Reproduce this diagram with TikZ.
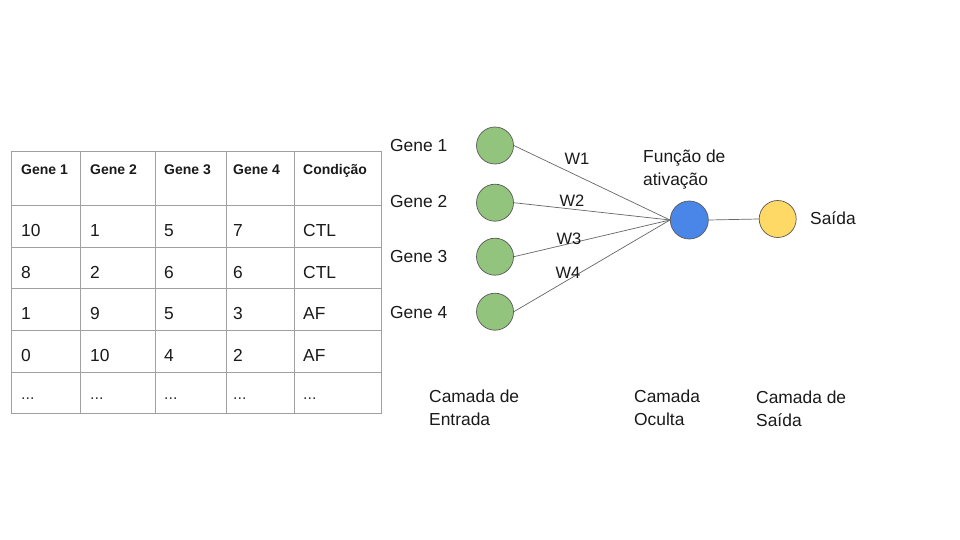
\documentclass[tikz,border=0pt]{standalone}
\usepackage{fontspec}
\setmainfont{Liberation Sans}
\definecolor{ngreen}{HTML}{93C47D}
\definecolor{nblue}{HTML}{4A86E8}
\definecolor{nyellow}{HTML}{FFD966}
\definecolor{edgegray}{HTML}{595959}
\definecolor{linegray}{HTML}{666666}
\definecolor{tabgray}{HTML}{A0A0A0}
\definecolor{txt}{HTML}{1A1A1A}
\definecolor{dotgray}{HTML}{333333}
\begin{document}
\begin{tikzpicture}[x=1pt,y=-1pt,
  neuron/.style={circle, draw=edgegray, line width=0.7pt, minimum size=37pt, inner sep=0pt},
  lbl/.style={anchor=west, inner sep=0pt, font=\fontsize{17.4}{23}\selectfont, align=left, text=txt},
  wlbl/.style={inner sep=0pt, font=\fontsize{16.5}{20}\selectfont, text=txt},
  conn/.style={draw=linegray, line width=0.7pt},
  tline/.style={draw=tabgray, line width=0.8pt},
  thead/.style={anchor=base west, inner sep=0pt, font=\fontsize{14}{16}\selectfont\bfseries, text=txt},
  tcell/.style={anchor=base west, inner sep=0pt, font=\fontsize{17.4}{20}\selectfont, text=txt},
  tdots/.style={anchor=base west, inner sep=0pt, font=\fontsize{16}{18}\selectfont, text=dotgray}]
\useasboundingbox[fill=white] (0,0) rectangle (960,540);

% table
\draw[tline] (11,151) rectangle (381,413);
\foreach \x in {80,155,226,294} \draw[tline] (\x,151) -- (\x,413);
\foreach \y in {205,247,288,330,372} \draw[tline] (11,\y) -- (381,\y);
\node[thead] (h1) at (21,175) {Gene 1};
\node[thead] (h2) at (90,175) {Gene 2};
\node[thead] (h3) at (164,175) {Gene 3};
\node[thead] (h4) at (233,175) {Gene 4};
\node[thead] (h5) at (303,175) {Condição};
\node[tcell] (r1c1) at (21,236.5) {10};
\node[tcell] (r1c2) at (90,236.5) {1};
\node[tcell] (r1c3) at (164,236.5) {5};
\node[tcell] (r1c4) at (233,236.5) {7};
\node[tcell] (r1c5) at (303,236.5) {CTL};
\node[tcell] (r2c1) at (21,278) {8};
\node[tcell] (r2c2) at (90,278) {2};
\node[tcell] (r2c3) at (164,278) {6};
\node[tcell] (r2c4) at (233,278) {6};
\node[tcell] (r2c5) at (303,278) {CTL};
\node[tcell] (r3c1) at (21,319.5) {1};
\node[tcell] (r3c2) at (90,319.5) {9};
\node[tcell] (r3c3) at (164,319.5) {5};
\node[tcell] (r3c4) at (233,319.5) {3};
\node[tcell] (r3c5) at (303,319.5) {AF};
\node[tcell] (r4c1) at (21,361) {0};
\node[tcell] (r4c2) at (90,361) {10};
\node[tcell] (r4c3) at (164,361) {4};
\node[tcell] (r4c4) at (233,361) {2};
\node[tcell] (r4c5) at (303,361) {AF};
\foreach \x/\n in {21/1,90/2,164/3,233/4,303/5}
  \node[tdots] (r5c\n) at (\x,399.5) {...};

% network
\node[neuron, fill=ngreen] (g1) at (495,145.5) {};
\node[neuron, fill=ngreen] (g2) at (495,202.7) {};
\node[neuron, fill=ngreen] (g3) at (495,256.7) {};
\node[neuron, fill=ngreen] (g4) at (495,311.7) {};
\node[neuron, fill=nblue, minimum size=38pt] (act) at (689.3,220) {};
\node[neuron, fill=nyellow] (out) at (777.7,219) {};

\draw[conn] (g1.east) -- (act.west);
\draw[conn] (g2.east) -- (act.west);
\draw[conn] (g3.east) -- (act.west);
\draw[conn] (g4.east) -- (act.west);
\draw[conn] (act.east) -- (out.west);

\node[lbl] (lg1) at (390,146) {Gene 1};
\node[lbl] (lg2) at (390,202) {Gene 2};
\node[lbl] (lg3) at (390,257) {Gene 3};
\node[lbl] (lg4) at (390,313) {Gene 4};

\node[wlbl] (w1) at (577,158.5) {W1};
\node[wlbl] (w2) at (572,201) {W2};
\node[wlbl] (w3) at (569,239) {W3};
\node[wlbl] (w4) at (568,273) {W4};

\node[lbl] (fa) at (643,170) {Função de\\ativação};
\node[lbl] (sa) at (810,218.5) {Saída};

\node[lbl] (ce) at (429,408) {Camada de\\Entrada};
\node[lbl] (co) at (634,408) {Camada\\Oculta};
\node[lbl] (cs) at (756,409) {Camada de\\Saída};
\end{tikzpicture}
\end{document}
